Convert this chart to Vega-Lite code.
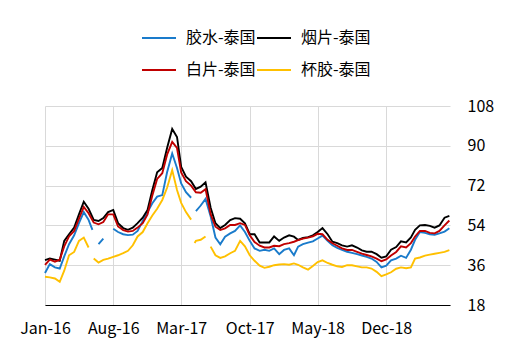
{
"$schema": "https://vega.github.io/schema/vega-lite/v6.json",
"width": 405, "height": 199,
"autosize": {"type": "none"},
"padding": {"left": 45, "top": 106, "right": 64, "bottom": 52},
"background": "white",
"config": {"view": {"stroke": null}, "font": "Noto Sans CJK SC"},
"data": {"values": [
{"d":"2016/01/01","s":"胶水-泰国","v":32.5},{"d":"2016/01/16","s":"胶水-泰国","v":36.5},{"d":"2016/02/01","s":"胶水-泰国","v":35},{"d":"2016/02/16","s":"胶水-泰国","v":34.5},{"d":"2016/03/01","s":"胶水-泰国","v":40},{"d":"2016/03/16","s":"胶水-泰国","v":45.5},{"d":"2016/04/01","s":"胶水-泰国","v":49.5},{"d":"2016/04/16","s":"胶水-泰国","v":55},{"d":"2016/05/01","s":"胶水-泰国","v":60},{"d":"2016/05/16","s":"胶水-泰国","v":56.5},{"d":"2016/05/28","s":"胶水-泰国","v":52},{"d":"2016/06/04","s":"胶水-泰国","v":null},{"d":"2016/06/16","s":"胶水-泰国","v":45.5},{"d":"2016/07/01","s":"胶水-泰国","v":48},{"d":"2016/07/16","s":"胶水-泰国","v":null},{"d":"2016/08/01","s":"胶水-泰国","v":52.5},{"d":"2016/08/16","s":"胶水-泰国","v":51},{"d":"2016/09/01","s":"胶水-泰国","v":50},{"d":"2016/09/16","s":"胶水-泰国","v":49.6},{"d":"2016/10/01","s":"胶水-泰国","v":49.8},{"d":"2016/10/16","s":"胶水-泰国","v":51.5},{"d":"2016/11/01","s":"胶水-泰国","v":56},{"d":"2016/11/16","s":"胶水-泰国","v":60},{"d":"2016/12/01","s":"胶水-泰国","v":64},{"d":"2016/12/16","s":"胶水-泰国","v":67},
{"d":"2017/01/01","s":"胶水-泰国","v":67.7},{"d":"2017/01/16","s":"胶水-泰国","v":78},{"d":"2017/02/01","s":"胶水-泰国","v":86.5},{"d":"2017/02/16","s":"胶水-泰国","v":80},{"d":"2017/03/01","s":"胶水-泰国","v":73},{"d":"2017/03/16","s":"胶水-泰国","v":69},{"d":"2017/04/01","s":"胶水-泰国","v":66.5},{"d":"2017/04/08","s":"胶水-泰国","v":null},{"d":"2017/04/16","s":"胶水-泰国","v":60.5},{"d":"2017/05/01","s":"胶水-泰国","v":63},{"d":"2017/05/16","s":"胶水-泰国","v":66},{"d":"2017/06/01","s":"胶水-泰国","v":58},{"d":"2017/06/16","s":"胶水-泰国","v":48.5},{"d":"2017/07/01","s":"胶水-泰国","v":45.5},{"d":"2017/07/16","s":"胶水-泰国","v":48.9},{"d":"2017/08/01","s":"胶水-泰国","v":50.4},{"d":"2017/08/16","s":"胶水-泰国","v":51.5},{"d":"2017/09/01","s":"胶水-泰国","v":54},{"d":"2017/09/16","s":"胶水-泰国","v":51},{"d":"2017/10/01","s":"胶水-泰国","v":47},{"d":"2017/10/16","s":"胶水-泰国","v":43.6},{"d":"2017/11/01","s":"胶水-泰国","v":42.5},{"d":"2017/11/16","s":"胶水-泰国","v":43},{"d":"2017/12/01","s":"胶水-泰国","v":42.5},{"d":"2017/12/16","s":"胶水-泰国","v":43.6},
{"d":"2018/01/01","s":"胶水-泰国","v":41},{"d":"2018/01/16","s":"胶水-泰国","v":42.9},{"d":"2018/02/01","s":"胶水-泰国","v":43.6},{"d":"2018/02/16","s":"胶水-泰国","v":40.5},{"d":"2018/03/01","s":"胶水-泰国","v":44.4},{"d":"2018/03/16","s":"胶水-泰国","v":45.5},{"d":"2018/04/01","s":"胶水-泰国","v":46.2},{"d":"2018/04/16","s":"胶水-泰国","v":46.8},{"d":"2018/05/01","s":"胶水-泰国","v":48.1},{"d":"2018/05/16","s":"胶水-泰国","v":49.4},{"d":"2018/06/01","s":"胶水-泰国","v":47},{"d":"2018/06/16","s":"胶水-泰国","v":45},{"d":"2018/07/01","s":"胶水-泰国","v":43.8},{"d":"2018/07/16","s":"胶水-泰国","v":42.9},{"d":"2018/08/01","s":"胶水-泰国","v":42.1},{"d":"2018/08/16","s":"胶水-泰国","v":41.6},{"d":"2018/09/01","s":"胶水-泰国","v":41},{"d":"2018/09/16","s":"胶水-泰国","v":40.4},{"d":"2018/10/01","s":"胶水-泰国","v":39.8},{"d":"2018/10/16","s":"胶水-泰国","v":39},{"d":"2018/11/01","s":"胶水-泰国","v":37.5},{"d":"2018/11/16","s":"胶水-泰国","v":35},{"d":"2018/12/01","s":"胶水-泰国","v":35.8},{"d":"2018/12/16","s":"胶水-泰国","v":38.2},
{"d":"2019/01/01","s":"胶水-泰国","v":39},{"d":"2019/01/16","s":"胶水-泰国","v":40.3},{"d":"2019/02/01","s":"胶水-泰国","v":39.3},{"d":"2019/02/16","s":"胶水-泰国","v":43},{"d":"2019/03/01","s":"胶水-泰国","v":47.5},{"d":"2019/03/16","s":"胶水-泰国","v":51},{"d":"2019/04/01","s":"胶水-泰国","v":50.6},{"d":"2019/04/16","s":"胶水-泰国","v":50},{"d":"2019/05/01","s":"胶水-泰国","v":49.8},{"d":"2019/05/16","s":"胶水-泰国","v":50.4},{"d":"2019/06/01","s":"胶水-泰国","v":51.2},{"d":"2019/06/16","s":"胶水-泰国","v":52.7},

{"d":"2016/01/01","s":"烟片-泰国","v":38.3},{"d":"2016/01/16","s":"烟片-泰国","v":39},{"d":"2016/02/01","s":"烟片-泰国","v":38.5},{"d":"2016/02/16","s":"烟片-泰国","v":38},{"d":"2016/03/01","s":"烟片-泰国","v":47},{"d":"2016/03/16","s":"烟片-泰国","v":50},{"d":"2016/04/01","s":"烟片-泰国","v":53},{"d":"2016/04/16","s":"烟片-泰国","v":59},{"d":"2016/05/01","s":"烟片-泰国","v":64.7},{"d":"2016/05/16","s":"烟片-泰国","v":61.5},{"d":"2016/06/01","s":"烟片-泰国","v":56.5},{"d":"2016/06/16","s":"烟片-泰国","v":56},{"d":"2016/07/01","s":"烟片-泰国","v":57.3},{"d":"2016/07/16","s":"烟片-泰国","v":60},{"d":"2016/08/01","s":"烟片-泰国","v":61},{"d":"2016/08/16","s":"烟片-泰国","v":55},{"d":"2016/09/01","s":"烟片-泰国","v":52.8},{"d":"2016/09/16","s":"烟片-泰国","v":52},{"d":"2016/10/01","s":"烟片-泰国","v":53},{"d":"2016/10/16","s":"烟片-泰国","v":55},{"d":"2016/11/01","s":"烟片-泰国","v":57.5},{"d":"2016/11/16","s":"烟片-泰国","v":61},{"d":"2016/12/01","s":"烟片-泰国","v":70},{"d":"2016/12/16","s":"烟片-泰国","v":78},
{"d":"2017/01/01","s":"烟片-泰国","v":80},{"d":"2017/01/16","s":"烟片-泰国","v":89},{"d":"2017/02/01","s":"烟片-泰国","v":97.6},{"d":"2017/02/16","s":"烟片-泰国","v":94},{"d":"2017/03/01","s":"烟片-泰国","v":80.5},{"d":"2017/03/16","s":"烟片-泰国","v":76},{"d":"2017/04/01","s":"烟片-泰国","v":74},{"d":"2017/04/16","s":"烟片-泰国","v":70.5},{"d":"2017/05/01","s":"烟片-泰国","v":71.5},{"d":"2017/05/16","s":"烟片-泰国","v":73.5},{"d":"2017/06/01","s":"烟片-泰国","v":62},{"d":"2017/06/16","s":"烟片-泰国","v":55},{"d":"2017/07/01","s":"烟片-泰国","v":52.8},{"d":"2017/07/16","s":"烟片-泰国","v":54.2},{"d":"2017/08/01","s":"烟片-泰国","v":56.4},{"d":"2017/08/16","s":"烟片-泰国","v":57.3},{"d":"2017/09/01","s":"烟片-泰国","v":57},{"d":"2017/09/16","s":"烟片-泰国","v":55},{"d":"2017/10/01","s":"烟片-泰国","v":50},{"d":"2017/10/16","s":"烟片-泰国","v":50},{"d":"2017/11/01","s":"烟片-泰国","v":46.3},{"d":"2017/11/16","s":"烟片-泰国","v":46.3},{"d":"2017/12/01","s":"烟片-泰国","v":46.3},{"d":"2017/12/16","s":"烟片-泰国","v":49},
{"d":"2018/01/01","s":"烟片-泰国","v":47},{"d":"2018/01/16","s":"烟片-泰国","v":48.5},{"d":"2018/02/01","s":"烟片-泰国","v":49.5},{"d":"2018/02/16","s":"烟片-泰国","v":48.9},{"d":"2018/03/01","s":"烟片-泰国","v":47.4},{"d":"2018/03/16","s":"烟片-泰国","v":48.3},{"d":"2018/04/01","s":"烟片-泰国","v":48.7},{"d":"2018/04/16","s":"烟片-泰国","v":49.5},{"d":"2018/05/01","s":"烟片-泰国","v":51},{"d":"2018/05/16","s":"烟片-泰国","v":52.8},{"d":"2018/06/01","s":"烟片-泰国","v":50},{"d":"2018/06/16","s":"烟片-泰国","v":46.6},{"d":"2018/07/01","s":"烟片-泰国","v":46},{"d":"2018/07/16","s":"烟片-泰国","v":45},{"d":"2018/08/01","s":"烟片-泰国","v":44.4},{"d":"2018/08/16","s":"烟片-泰国","v":45},{"d":"2018/09/01","s":"烟片-泰国","v":44},{"d":"2018/09/16","s":"烟片-泰国","v":42.7},{"d":"2018/10/01","s":"烟片-泰国","v":42.1},{"d":"2018/10/16","s":"烟片-泰国","v":42.1},{"d":"2018/11/01","s":"烟片-泰国","v":41},{"d":"2018/11/16","s":"烟片-泰国","v":39.4},{"d":"2018/12/01","s":"烟片-泰国","v":40},{"d":"2018/12/16","s":"烟片-泰国","v":43},
{"d":"2019/01/01","s":"烟片-泰国","v":44.2},{"d":"2019/01/16","s":"烟片-泰国","v":46.8},{"d":"2019/02/01","s":"烟片-泰国","v":46.3},{"d":"2019/02/16","s":"烟片-泰国","v":48.6},{"d":"2019/03/01","s":"烟片-泰国","v":52},{"d":"2019/03/16","s":"烟片-泰国","v":54},{"d":"2019/04/01","s":"烟片-泰国","v":54.2},{"d":"2019/04/16","s":"烟片-泰国","v":53.8},{"d":"2019/05/01","s":"烟片-泰国","v":53},{"d":"2019/05/16","s":"烟片-泰国","v":54},{"d":"2019/06/01","s":"烟片-泰国","v":57.5},{"d":"2019/06/16","s":"烟片-泰国","v":58.3},

{"d":"2016/01/01","s":"白片-泰国","v":36.1},{"d":"2016/01/16","s":"白片-泰国","v":38.5},{"d":"2016/02/01","s":"白片-泰国","v":37.6},{"d":"2016/02/16","s":"白片-泰国","v":38.5},{"d":"2016/03/01","s":"白片-泰国","v":44.5},{"d":"2016/03/16","s":"白片-泰国","v":49},{"d":"2016/04/01","s":"白片-泰国","v":51.5},{"d":"2016/04/16","s":"白片-泰国","v":57},{"d":"2016/05/01","s":"白片-泰国","v":62.4},{"d":"2016/05/16","s":"白片-泰国","v":59.5},{"d":"2016/06/01","s":"白片-泰国","v":55.3},{"d":"2016/06/16","s":"白片-泰国","v":54.5},{"d":"2016/07/01","s":"白片-泰国","v":55.5},{"d":"2016/07/16","s":"白片-泰国","v":59},{"d":"2016/08/01","s":"白片-泰国","v":59},{"d":"2016/08/16","s":"白片-泰国","v":53.5},{"d":"2016/09/01","s":"白片-泰国","v":51.9},{"d":"2016/09/16","s":"白片-泰国","v":51.2},{"d":"2016/10/01","s":"白片-泰国","v":51.5},{"d":"2016/10/16","s":"白片-泰国","v":53},{"d":"2016/11/01","s":"白片-泰国","v":55},{"d":"2016/11/16","s":"白片-泰国","v":59},{"d":"2016/12/01","s":"白片-泰国","v":67.5},{"d":"2016/12/16","s":"白片-泰国","v":75},
{"d":"2017/01/01","s":"白片-泰国","v":77.6},{"d":"2017/01/16","s":"白片-泰国","v":86},{"d":"2017/02/01","s":"白片-泰国","v":91.8},{"d":"2017/02/16","s":"白片-泰国","v":89},{"d":"2017/03/01","s":"白片-泰国","v":78},{"d":"2017/03/16","s":"白片-泰国","v":74},{"d":"2017/04/01","s":"白片-泰国","v":72},{"d":"2017/04/16","s":"白片-泰国","v":69},{"d":"2017/05/01","s":"白片-泰国","v":68.8},{"d":"2017/05/16","s":"白片-泰国","v":70.4},{"d":"2017/06/01","s":"白片-泰国","v":59},{"d":"2017/06/16","s":"白片-泰国","v":53.4},{"d":"2017/07/01","s":"白片-泰国","v":51.9},{"d":"2017/07/16","s":"白片-泰国","v":52.7},{"d":"2017/08/01","s":"白片-泰国","v":54.2},{"d":"2017/08/16","s":"白片-泰国","v":54.2},{"d":"2017/09/01","s":"白片-泰国","v":55},{"d":"2017/09/16","s":"白片-泰国","v":54.2},{"d":"2017/10/01","s":"白片-泰国","v":49.5},{"d":"2017/10/16","s":"白片-泰国","v":46.5},{"d":"2017/11/01","s":"白片-泰国","v":44.8},{"d":"2017/11/16","s":"白片-泰国","v":44},{"d":"2017/12/01","s":"白片-泰国","v":44},{"d":"2017/12/16","s":"白片-泰国","v":44.8},
{"d":"2018/01/01","s":"白片-泰国","v":44.6},{"d":"2018/01/16","s":"白片-泰国","v":45.5},{"d":"2018/02/01","s":"白片-泰国","v":46},{"d":"2018/02/16","s":"白片-泰国","v":46.6},{"d":"2018/03/01","s":"白片-泰国","v":47.3},{"d":"2018/03/16","s":"白片-泰国","v":48},{"d":"2018/04/01","s":"白片-泰国","v":48.5},{"d":"2018/04/16","s":"白片-泰国","v":49},{"d":"2018/05/01","s":"白片-泰国","v":50.2},{"d":"2018/05/16","s":"白片-泰国","v":50},{"d":"2018/06/01","s":"白片-泰国","v":47.5},{"d":"2018/06/16","s":"白片-泰国","v":45.9},{"d":"2018/07/01","s":"白片-泰国","v":44.8},{"d":"2018/07/16","s":"白片-泰国","v":43.6},{"d":"2018/08/01","s":"白片-泰国","v":42.9},{"d":"2018/08/16","s":"白片-泰国","v":42.9},{"d":"2018/09/01","s":"白片-泰国","v":42},{"d":"2018/09/16","s":"白片-泰国","v":41.2},{"d":"2018/10/01","s":"白片-泰国","v":40.6},{"d":"2018/10/16","s":"白片-泰国","v":40},{"d":"2018/11/01","s":"白片-泰国","v":39},{"d":"2018/11/16","s":"白片-泰国","v":37.8},{"d":"2018/12/01","s":"白片-泰国","v":38.6},{"d":"2018/12/16","s":"白片-泰国","v":40.4},
{"d":"2019/01/01","s":"白片-泰国","v":42},{"d":"2019/01/16","s":"白片-泰国","v":44.5},{"d":"2019/02/01","s":"白片-泰国","v":44},{"d":"2019/02/16","s":"白片-泰国","v":46},{"d":"2019/03/01","s":"白片-泰国","v":49},{"d":"2019/03/16","s":"白片-泰国","v":51.5},{"d":"2019/04/01","s":"白片-泰国","v":51.5},{"d":"2019/04/16","s":"白片-泰国","v":50.6},{"d":"2019/05/01","s":"白片-泰国","v":50.4},{"d":"2019/05/16","s":"白片-泰国","v":51.5},{"d":"2019/06/01","s":"白片-泰国","v":54},{"d":"2019/06/16","s":"白片-泰国","v":56.2},

{"d":"2016/01/01","s":"杯胶-泰国","v":30.8},{"d":"2016/01/16","s":"杯胶-泰国","v":30.5},{"d":"2016/02/01","s":"杯胶-泰国","v":30},{"d":"2016/02/16","s":"杯胶-泰国","v":28.5},{"d":"2016/03/01","s":"杯胶-泰国","v":33.5},{"d":"2016/03/16","s":"杯胶-泰国","v":40.5},{"d":"2016/04/01","s":"杯胶-泰国","v":42},{"d":"2016/04/16","s":"杯胶-泰国","v":47},{"d":"2016/05/01","s":"杯胶-泰国","v":48.5},{"d":"2016/05/16","s":"杯胶-泰国","v":44},{"d":"2016/05/23","s":"杯胶-泰国","v":null},{"d":"2016/06/01","s":"杯胶-泰国","v":39},{"d":"2016/06/16","s":"杯胶-泰国","v":37.2},{"d":"2016/07/01","s":"杯胶-泰国","v":38.4},{"d":"2016/07/16","s":"杯胶-泰国","v":39},{"d":"2016/08/01","s":"杯胶-泰国","v":39.8},{"d":"2016/08/16","s":"杯胶-泰国","v":40.5},{"d":"2016/09/01","s":"杯胶-泰国","v":41.5},{"d":"2016/09/16","s":"杯胶-泰国","v":42.5},{"d":"2016/10/01","s":"杯胶-泰国","v":45},{"d":"2016/10/16","s":"杯胶-泰国","v":49},{"d":"2016/11/01","s":"杯胶-泰国","v":51},{"d":"2016/11/16","s":"杯胶-泰国","v":55},{"d":"2016/12/01","s":"杯胶-泰国","v":58.5},{"d":"2016/12/16","s":"杯胶-泰国","v":61.5},
{"d":"2017/01/01","s":"杯胶-泰国","v":65.5},{"d":"2017/01/16","s":"杯胶-泰国","v":71},{"d":"2017/02/01","s":"杯胶-泰国","v":79},{"d":"2017/02/16","s":"杯胶-泰国","v":70},{"d":"2017/03/01","s":"杯胶-泰国","v":64.2},{"d":"2017/03/16","s":"杯胶-泰国","v":60},{"d":"2017/04/01","s":"杯胶-泰国","v":56.6},{"d":"2017/04/06","s":"杯胶-泰国","v":null},{"d":"2017/04/12","s":"杯胶-泰国","v":46},{"d":"2017/04/16","s":"杯胶-泰国","v":47},{"d":"2017/05/01","s":"杯胶-泰国","v":47.5},{"d":"2017/05/16","s":"杯胶-泰国","v":49},{"d":"2017/05/26","s":"杯胶-泰国","v":null},{"d":"2017/06/01","s":"杯胶-泰国","v":44.4},{"d":"2017/06/16","s":"杯胶-泰国","v":40.5},{"d":"2017/07/01","s":"杯胶-泰国","v":39.3},{"d":"2017/07/16","s":"杯胶-泰国","v":40},{"d":"2017/08/01","s":"杯胶-泰国","v":41.4},{"d":"2017/08/16","s":"杯胶-泰国","v":42.5},{"d":"2017/09/01","s":"杯胶-泰国","v":47},{"d":"2017/09/16","s":"杯胶-泰国","v":44.5},{"d":"2017/10/01","s":"杯胶-泰国","v":40.5},{"d":"2017/10/16","s":"杯胶-泰国","v":38},{"d":"2017/11/01","s":"杯胶-泰国","v":35.8},{"d":"2017/11/16","s":"杯胶-泰国","v":34.8},{"d":"2017/12/01","s":"杯胶-泰国","v":35.3},{"d":"2017/12/16","s":"杯胶-泰国","v":36},
{"d":"2018/01/01","s":"杯胶-泰国","v":36.3},{"d":"2018/01/16","s":"杯胶-泰国","v":36.5},{"d":"2018/02/01","s":"杯胶-泰国","v":36.2},{"d":"2018/02/16","s":"杯胶-泰国","v":36.8},{"d":"2018/03/01","s":"杯胶-泰国","v":36.2},{"d":"2018/03/16","s":"杯胶-泰国","v":35},{"d":"2018/04/01","s":"杯胶-泰国","v":34},{"d":"2018/04/16","s":"杯胶-泰国","v":35.6},{"d":"2018/05/01","s":"杯胶-泰国","v":37.4},{"d":"2018/05/16","s":"杯胶-泰国","v":38.2},{"d":"2018/06/01","s":"杯胶-泰国","v":37},{"d":"2018/06/16","s":"杯胶-泰国","v":36.2},{"d":"2018/07/01","s":"杯胶-泰国","v":35.5},{"d":"2018/07/16","s":"杯胶-泰国","v":35.2},{"d":"2018/08/01","s":"杯胶-泰国","v":36},{"d":"2018/08/16","s":"杯胶-泰国","v":36},{"d":"2018/09/01","s":"杯胶-泰国","v":35.5},{"d":"2018/09/16","s":"杯胶-泰国","v":35},{"d":"2018/10/01","s":"杯胶-泰国","v":35},{"d":"2018/10/16","s":"杯胶-泰国","v":34.5},{"d":"2018/11/01","s":"杯胶-泰国","v":33},{"d":"2018/11/16","s":"杯胶-泰国","v":31},{"d":"2018/12/01","s":"杯胶-泰国","v":31.8},{"d":"2018/12/16","s":"杯胶-泰国","v":32.8},
{"d":"2019/01/01","s":"杯胶-泰国","v":34.4},{"d":"2019/01/16","s":"杯胶-泰国","v":35},{"d":"2019/02/01","s":"杯胶-泰国","v":34.6},{"d":"2019/02/16","s":"杯胶-泰国","v":35},{"d":"2019/03/01","s":"杯胶-泰国","v":39},{"d":"2019/03/16","s":"杯胶-泰国","v":39.5},{"d":"2019/04/01","s":"杯胶-泰国","v":40.3},{"d":"2019/04/16","s":"杯胶-泰国","v":40.8},{"d":"2019/05/01","s":"杯胶-泰国","v":41.2},{"d":"2019/05/16","s":"杯胶-泰国","v":41.6},{"d":"2019/06/01","s":"杯胶-泰国","v":42},{"d":"2019/06/16","s":"杯胶-泰国","v":42.8}
]},
"mark": {"type": "line", "strokeWidth": 1.9, "invalid": "break-paths-filter-domains"},
"encoding": {
  "x": {"field": "d", "type": "temporal",
    "scale": {"domain": [{"year": 2016, "month": 1, "date": 1}, {"year": 2019, "month": 6, "date": 18}]},
    "axis": {"title": null, "format": "%b-%y",
      "values": [{"year": 2016, "month": 1, "date": 1}, {"year": 2016, "month": 8, "date": 1}, {"year": 2017, "month": 3, "date": 1}, {"year": 2017, "month": 10, "date": 1}, {"year": 2018, "month": 5, "date": 1}, {"year": 2018, "month": 12, "date": 1}],
      "ticks": false, "grid": true, "gridColor": "#d9d9d9", "gridWidth": 1, "domainColor": "#000000", "domainWidth": 1,
      "labelFont": "Noto Sans CJK SC", "labelFontSize": 16, "labelColor": "#000000", "labelPadding": 15, "labelFlush": false, "labelOverlap": false}},
  "y": {"field": "v", "type": "quantitative",
    "scale": {"domain": [18, 108], "nice": false, "zero": false},
    "axis": {"orient": "right", "title": null, "values": [18, 36, 54, 72, 90, 108], "ticks": false, "domain": false,
      "grid": true, "gridColor": "#d9d9d9", "gridWidth": 1,
      "labelFont": "Noto Sans CJK SC", "labelFontSize": 16, "labelColor": "#000000", "labelPadding": 17, "labelAlign": "left", "labelFlush": false}},
  "color": {"field": "s", "type": "nominal",
    "scale": {"domain": ["胶水-泰国", "烟片-泰国", "白片-泰国", "杯胶-泰国"], "range": ["#1a7bcb", "#000000", "#c00000", "#ffc000"]},
    "legend": {"orient": "none", "legendX": 96, "legendY": -86, "direction": "horizontal", "columns": 2, "title": null,
      "symbolType": "stroke", "symbolSize": 1156, "symbolStrokeWidth": 2,
      "labelFont": "Noto Sans CJK SC", "labelFontSize": 16, "labelColor": "#000000", "labelOffset": 9,
      "columnPadding": -4, "rowPadding": 6, "padding": 0}}
}
}
